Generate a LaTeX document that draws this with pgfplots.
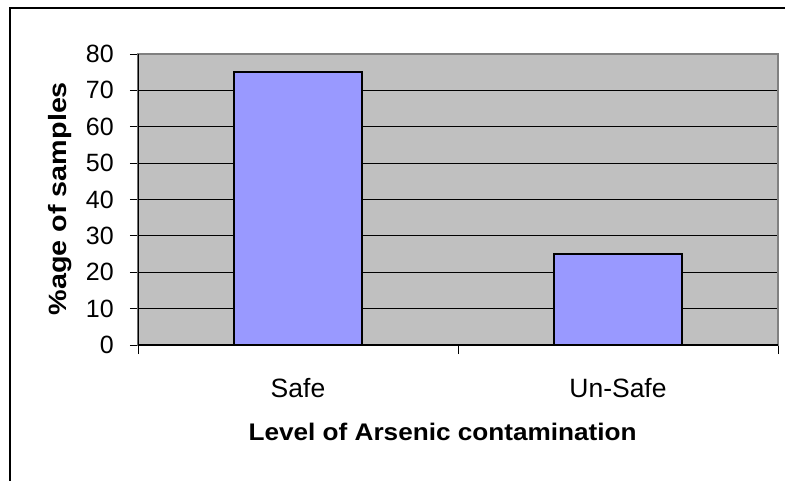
\documentclass[border=0pt]{standalone}
\usepackage{fontspec}
\setmainfont{Liberation Sans}
\usepackage{graphicx}
\usepackage{pgfplots}
\pgfplotsset{compat=1.18}
\definecolor{plotbg}{HTML}{C0C0C0}
\definecolor{barfill}{HTML}{9999FF}
\definecolor{bordergray}{HTML}{808080}
\begin{document}
\begin{tikzpicture}
\begin{axis}[
  scale only axis, width=640pt, height=291pt,
  xmin=-0.5, xmax=1.5, ymin=0, ymax=80,
  ytick={0,10,...,80},
  xtick={0,1}, xticklabels={Safe,Un-Safe},
  minor xtick={-0.5,0.5,1.5},
  major x tick style={draw=none},
  minor x tick style={black, line width=0.8pt},
  y tick style={black, line width=0.8pt},
  minor tick length=9pt,
  major tick length=8pt,
  tick align=outside,
  xtick pos=bottom, ytick pos=left,
  ymajorgrids, grid style={black, line width=0.8pt},
  axis background/.style={fill=plotbg},
  axis line style={bordergray, line width=1.2pt},
  /pgf/number format/assume math mode=true,
  yticklabel style={font=\fontsize{25}{29}\selectfont, anchor=east, inner sep=0pt, xshift=-16pt},
  xticklabel style={font=\fontsize{26.5}{30}\selectfont, anchor=base, inner sep=0pt, yshift=-44pt},
  xlabel={\scalebox{1.09}[1]{\bfseries Level of Arsenic contamination}},
  ylabel={\scalebox{1.15}[1]{\bfseries \%age of samples}},
  xlabel style={font=\fontsize{24}{28}\selectfont, at={(axis description cs:0.476,-0.299)}, anchor=center},
  ylabel style={font=\fontsize{25}{29}\selectfont, at={(axis description cs:-0.122,0.503)}, anchor=center},
  ybar, bar width=128pt,
]
\addplot[fill=barfill, draw=black, line width=1.5pt] coordinates {(0,75) (1,25)};
\draw[black, line width=1.2pt] (rel axis cs:0,1) -- (rel axis cs:0,0) -- (rel axis cs:1,0);
\end{axis}
\draw[black, line width=2pt] (-128pt,-160pt) -- (-128pt,337pt) -- (670pt,337pt);
\pgfresetboundingbox
\useasboundingbox (-138pt,-135pt) rectangle (647pt,345pt);
\end{tikzpicture}
\end{document}
